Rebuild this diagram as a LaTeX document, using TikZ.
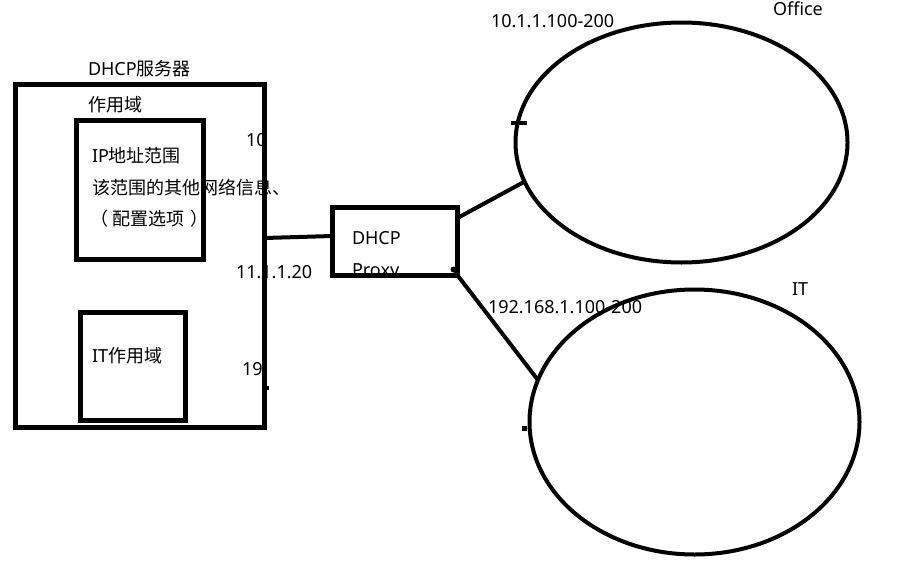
\documentclass[tikz,border=0pt]{standalone}
\usepackage{fontspec}
\setmainfont{Noto Sans}
\newfontfamily\cjk{Noto Sans CJK SC}
\usetikzlibrary{shapes.geometric}
\begin{document}
\begin{tikzpicture}[x=1pt,y=-1pt,
  frame/.style={draw,line width=5pt,inner sep=0pt,outer sep=0pt},
  ring/.style={draw,ellipse,line width=4pt,inner sep=0pt,outer sep=0pt},
  wire/.style={line width=4pt},
  lbl/.style={anchor=base west,inner sep=0pt,outer sep=0pt,font=\fontsize{18pt}{22pt}\selectfont}]
\useasboundingbox (0,0) rectangle (897,565);
% boxes
\node[frame,minimum width=249pt,minimum height=342.5pt] (server) at (140,255.75) {};
\node[frame,minimum width=126.5pt,minimum height=138.5pt] (scope) at (139.75,189.75) {};
\node[frame,minimum width=104.5pt,minimum height=107.5pt] (itscope) at (132.75,366.25) {};
\node[frame,line width=4.5pt,minimum width=125pt,minimum height=68pt] (proxy) at (395,241.5) {};
\node[ring,minimum width=332pt,minimum height=240pt] (office) at (681.5,142.5) {};
\node[ring,minimum width=330pt,minimum height=265pt] (it) at (694.5,422) {};
% connectors
\draw[wire] ([yshift=17.75pt]server.east) -- ([yshift=5.5pt]proxy.west);
\draw[wire] ([yshift=23.5pt]proxy.east) -- (office.194);
\draw[wire] ([xshift=-2.5pt,yshift=3.5pt]proxy.south east) -- (it.165);
% small marks
\draw[line width=4pt] (511,123) -- (527,123);
\fill (522,426) rectangle (526.5,431);
\fill (266,386) rectangle (268.5,390);
\fill (453.5,269.5) circle (3pt);
% labels
\node[lbl] (t1) at (88,75) {DHCP{\cjk 服务器}};
\node[lbl] (t2) at (88,111) {\cjk 作用域};
\node[lbl] (t3) at (92,162) {IP{\cjk 地址范围}};
\node[lbl] (t4) at (92,194) {\cjk 该范围的其他网络信息、};
\node[lbl] (t5) at (90,225) {\cjk （\hspace{5pt}配置选项\hspace{6pt}）};
\node[lbl] (t6) at (92,362) {IT{\cjk 作用域}};
\node[lbl] (t7) at (246,146) {10};
\node[lbl] (t8) at (236,278) {11.1.1.20};
\node[lbl] (t9) at (242,375) {19};
\node[lbl] (t10) at (352,244) {DHCP};
\begin{scope}
  \clip (proxy.south west) rectangle (proxy.north east);
  \node[lbl] (t11) at (352,276) {Proxy};
\end{scope}
\node[lbl] (t12) at (491,27) {10.1.1.100-200};
\node[lbl] (t13) at (773,15) {Office};
\node[lbl] (t14) at (488,313) {192.168.1.100-200};
\node[lbl] (t15) at (792,295) {IT};
\end{tikzpicture}
\end{document}
